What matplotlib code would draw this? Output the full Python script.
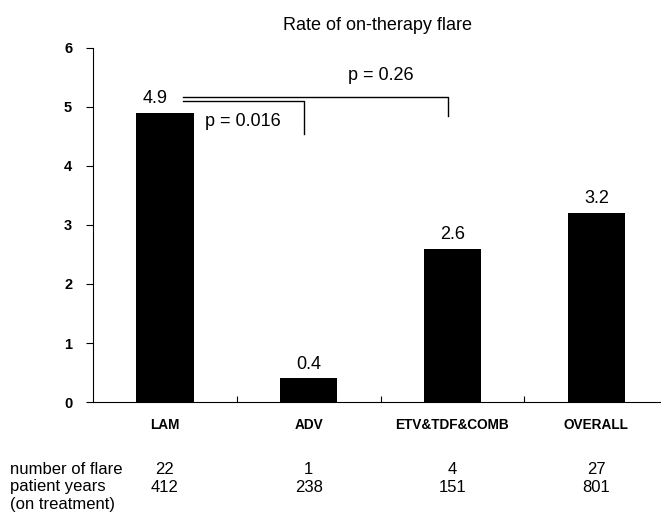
import matplotlib.pyplot as plt
import matplotlib.transforms as mtransforms

plt.rcParams['font.family'] = ['Liberation Sans', 'DejaVu Sans']

groups = ['LAM', 'ADV', 'ETV&TDF&COMB', 'OVERALL']
rates = [4.9, 0.4, 2.6, 3.2]
n_flare = [22, 1, 4, 27]
pt_years = [412, 238, 151, 801]

fig = plt.figure(figsize=(6.61, 5.21), dpi=100)
ax = fig.add_axes([0.1407, 0.2284, 0.8593, 0.6795])

x = range(len(groups))
ax.bar(x, rates, width=0.4, color='black')

ax.set_xlim(-0.5, 3.45)
ax.set_ylim(0, 6)
ax.set_yticks(range(7))
ax.tick_params(axis='y', direction='out', length=5, labelsize=10.5, pad=10)
for lab in ax.get_yticklabels():
    lab.set_fontweight('bold')
ax.set_xticks([0.5, 1.5, 2.5])
ax.set_xticklabels([])
ax.tick_params(axis='x', direction='in', length=4)
ax.spines['top'].set_visible(False)
ax.spines['right'].set_visible(False)

ax.set_title('Rate of on-therapy flare', fontsize=13, pad=13)

# category names under the axis
lab_tr = mtransforms.blended_transform_factory(ax.transData, fig.transFigure)
for i, g in enumerate(groups):
    ax.text(i, 1 - 425 / 521, g, transform=lab_tr, ha='center', va='center',
            fontsize=9.8, fontweight='bold')

# value labels above bars
for i, v in enumerate(rates):
    xi = i - 0.07 if i == 0 else i
    ax.text(xi, v + 0.1, f'{v:.1f}', ha='center', va='bottom', fontsize=13)

# significance brackets
ax.plot([0.125, 0.97, 0.97], [5.10, 5.10, 4.54], color='black', lw=1)
ax.plot([0.125, 1.97, 1.97], [5.17, 5.17, 4.85], color='black', lw=1)
ax.text(0.54, 4.75, 'p = 0.016', ha='center', va='center', fontsize=13)
ax.text(1.5, 5.53, 'p = 0.26', ha='center', va='center', fontsize=13)

# counts table
rows = [(470, 'number of flare', n_flare), (487, 'patient years', pt_years)]
for py, name, vals in rows:
    fig.text(10 / 661, 1 - py / 521, name, ha='left', va='center', fontsize=12)
    for i, v in enumerate(vals):
        ax.text(i, 1 - py / 521, str(v), transform=lab_tr,
                ha='center', va='center', fontsize=12)
fig.text(10 / 661, 1 - 505 / 521, '(on treatment)', ha='left', va='center',
         fontsize=12)

fig.savefig('out.png', dpi=100)
